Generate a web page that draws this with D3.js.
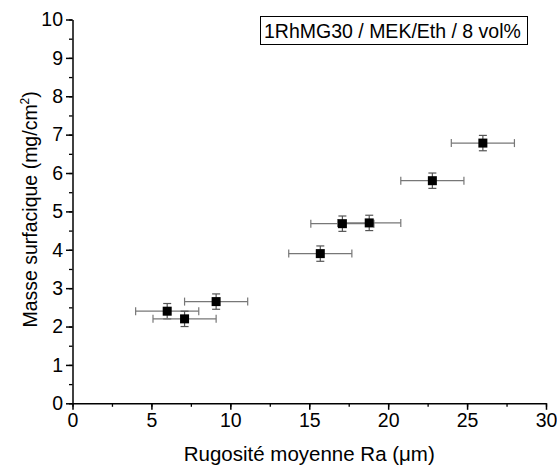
<!DOCTYPE html>
<html><head><meta charset="utf-8">
<script src="https://cdn.jsdelivr.net/npm/d3@7"></script>
<style>body{margin:0;background:#fff;} text{font-family:"Liberation Sans",Arial,sans-serif;}</style>
</head><body><svg id="c" width="557" height="470"></svg>
<script>
const rugosite = [6.0, 7.1, 9.1, 15.7, 17.1, 18.8, 22.8, 26.0];
const masse    = [2.4, 2.2, 2.65, 3.9, 4.68, 4.7, 5.8, 6.78];
const errX     = [2.0, 2.0, 2.0, 2.0, 2.0, 2.0, 2.0, 2.0];
const errY     = [0.2, 0.2, 0.2, 0.2, 0.2, 0.2, 0.2, 0.2];
const xTicks = [0, 5, 10, 15, 20, 25, 30];
const yTicks = [0,1,2,3,4,5,6,7,8,9,10];
const legendLabel = "1RhMG30 / MEK/Eth / 8 vol%";

const svg = d3.select("#c");
const x = d3.scaleLinear().domain([0,30]).range([72.5,546]);
const y = d3.scaleLinear().domain([0,10]).range([403.3,19.5]);

// minor ticks
const xMinor = d3.range(0,30.01,2.5);
const yMinor = d3.range(0,10.01,0.5);
svg.append("g").attr("transform",`translate(0,${y(0)})`)
  .call(d3.axisBottom(x).tickValues(xMinor).tickSize(3.5).tickFormat(""))
  .call(g=>g.select(".domain").remove())
  .selectAll("line").attr("stroke","#000").attr("stroke-width",1.3);
svg.append("g").attr("transform",`translate(${x(0)},0)`)
  .call(d3.axisLeft(y).tickValues(yMinor).tickSize(3.5).tickFormat(""))
  .call(g=>g.select(".domain").remove())
  .selectAll("line").attr("stroke","#000").attr("stroke-width",1.3);

const gx = svg.append("g").attr("transform",`translate(0,${y(0)})`)
  .call(d3.axisBottom(x).tickValues(xTicks).tickSize(6.5).tickSizeOuter(0).tickPadding(3));
gx.select(".domain").attr("stroke","#000").attr("stroke-width",1.5);
gx.selectAll("line").attr("stroke","#000").attr("stroke-width",1.5);
gx.selectAll("text").attr("font-size","19.5px").attr("fill","#000").attr("font-family","Liberation Sans, Arial, sans-serif");

const gy = svg.append("g").attr("transform",`translate(${x(0)},0)`)
  .call(d3.axisLeft(y).tickValues(yTicks).tickSize(6.5).tickSizeOuter(0).tickPadding(3));
gy.select(".domain").attr("stroke","#000").attr("stroke-width",1.5);
gy.selectAll("line").attr("stroke","#000").attr("stroke-width",1.5);
gy.selectAll("text").attr("font-size","19.5px").attr("fill","#000").attr("font-family","Liberation Sans, Arial, sans-serif");

// titles
svg.append("text").attr("x",(x(0)+x(30))/2).attr("y",461).attr("text-anchor","middle")
  .attr("font-size","20.5px").text("Rugosité moyenne Ra (μm)");
const yt = svg.append("text").attr("transform",`translate(37,${y(5)-2}) rotate(-90)`)
  .attr("text-anchor","middle").attr("font-size","19.5px");
yt.append("tspan").text("Masse surfacique (mg/cm");
yt.append("tspan").attr("font-size","12px").attr("dy",-8).text("2");
yt.append("tspan").attr("dy",8).text(")");

// data
const data = rugosite.map((v,i)=>({x:v,y:masse[i],ex:errX[i],ey:errY[i]}));
const g = svg.append("g");
data.forEach(d=>{
  const cx=x(d.x), cy=y(d.y);
  const xl=x(d.x-d.ex), xr=x(d.x+d.ex);
  g.append("line").attr("x1",xl).attr("x2",xr).attr("y1",cy).attr("y2",cy).attr("stroke","#777").attr("stroke-width",1.2);
  [xl,xr].forEach(xx=>g.append("line").attr("x1",xx).attr("x2",xx).attr("y1",cy-4).attr("y2",cy+4).attr("stroke","#777").attr("stroke-width",1.2));
  const yt1=y(d.y+d.ey), yb=y(d.y-d.ey);
  g.append("line").attr("x1",cx).attr("x2",cx).attr("y1",yt1).attr("y2",yb).attr("stroke","#555").attr("stroke-width",1.2);
  [yt1,yb].forEach(yy=>g.append("line").attr("x1",cx-4).attr("x2",cx+4).attr("y1",yy).attr("y2",yy).attr("stroke","#555").attr("stroke-width",1.2));
});
g.selectAll("rect.pt").data(data).enter().append("rect").attr("class","pt")
  .attr("x",d=>x(d.x)-4.5).attr("y",d=>y(d.y)-4.5).attr("width",9).attr("height",9).attr("fill","#000");

// legend
svg.append("rect").attr("x",260.5).attr("y",16.5).attr("width",267).attr("height",28)
  .attr("fill","#fff").attr("stroke","#000").attr("stroke-width",1);
svg.append("text").attr("x",264).attr("y",37.5).attr("font-size","19.5px").text(legendLabel);
</script></body></html>
